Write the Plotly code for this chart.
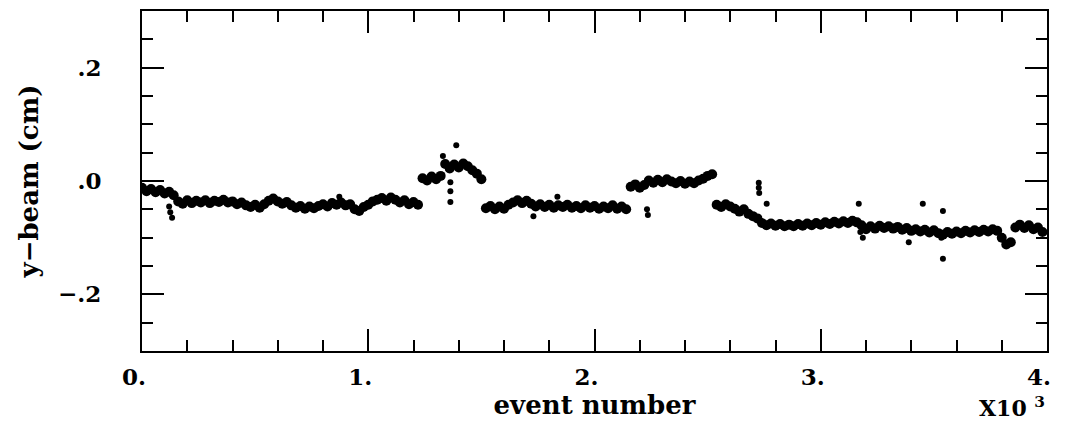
import plotly.graph_objects as go

# Beam y-position vs event number (event number in units of 10^3 on the axis)
EVENT_STEP_START = 0
EVENT_STEP = 20

# Running beam position sampled every 20 events, 0 .. 3980
y_beam = [
    -0.012, -0.018, -0.014, -0.020, -0.016, -0.022, -0.019, -0.025, -0.036, -0.040,
    -0.034, -0.039, -0.035, -0.038, -0.034, -0.039, -0.035, -0.037, -0.033, -0.038,
    -0.036, -0.041, -0.038, -0.043, -0.046, -0.042, -0.047, -0.041, -0.035, -0.031,
    -0.036, -0.040, -0.037, -0.043, -0.047, -0.044, -0.049, -0.045, -0.048, -0.044,
    -0.041, -0.045, -0.039, -0.042, -0.038, -0.043, -0.041, -0.050, -0.053, -0.046,
    -0.042, -0.036, -0.033, -0.030, -0.035, -0.029, -0.033, -0.038, -0.034, -0.041,
    -0.037, -0.042, 0.005, 0.001, 0.008, 0.003, 0.009, 0.030, 0.022, 0.029,
    0.024, 0.031, 0.026, 0.019, 0.013, 0.003, -0.048, -0.044, -0.050, -0.045,
    -0.049, -0.042, -0.038, -0.034, -0.039, -0.035, -0.040, -0.045, -0.041, -0.046,
    -0.042, -0.047, -0.043, -0.046, -0.042, -0.047, -0.044, -0.048, -0.043, -0.047,
    -0.044, -0.049, -0.045, -0.048, -0.043, -0.049, -0.045, -0.050, -0.010, -0.006,
    -0.012, -0.007, 0.001, -0.003, 0.002, -0.002, 0.003, -0.001, -0.004, 0.000,
    -0.005, -0.001, -0.004, 0.001, 0.004, 0.009, 0.012, -0.042, -0.046, -0.041,
    -0.045, -0.049, -0.054, -0.050, -0.058, -0.062, -0.066, -0.074, -0.078, -0.075,
    -0.079, -0.076, -0.080, -0.077, -0.080, -0.076, -0.079, -0.075, -0.078, -0.074,
    -0.077, -0.073, -0.076, -0.072, -0.075, -0.071, -0.074, -0.070, -0.073, -0.078,
    -0.085, -0.080, -0.084, -0.079, -0.083, -0.080, -0.084, -0.081, -0.086, -0.083,
    -0.088, -0.085, -0.089, -0.086, -0.091, -0.087, -0.092, -0.095, -0.090, -0.093,
    -0.089, -0.092, -0.088, -0.091, -0.087, -0.090, -0.086, -0.089, -0.085, -0.088,
    -0.100, -0.112, -0.108, -0.082, -0.077, -0.083, -0.078, -0.085, -0.082, -0.090,
]
events = [EVENT_STEP_START + EVENT_STEP * i for i in range(len(y_beam))]

# Isolated events away from the running band
outlier_events = [120, 125, 133, 872, 1330, 1363, 1363, 1363, 1389, 1730,
                  1836, 2232, 2236, 2726, 2726, 2728, 2761, 3168, 3175, 3186,
                  3389, 3451, 3533, 3540, 3540]
outlier_y = [-0.045, -0.055, -0.065, -0.028, 0.044, -0.002, -0.018, -0.037, 0.063, -0.062,
             -0.028, -0.050, -0.060, -0.003, -0.012, -0.021, -0.040, -0.040, -0.090, -0.100,
             -0.108, -0.040, -0.100, -0.053, -0.137]

NBSP2 = "\u00a0\u00a0"  # trailing pad so the label's period sits at the tick
x_tickvals = [0, 1, 2, 3, 4]
x_ticktext = ["0." + NBSP2, "1." + NBSP2, "2." + NBSP2, "3." + NBSP2, "4." + NBSP2]
y_tickvals = [-0.2, 0.0, 0.2]
y_ticktext = ["\u2212.2", ".0", ".2"]

FONT = "DejaVu Serif"

fig = go.Figure()
# dense running band
fig.add_trace(go.Scatter(
    x=[e / 1000 for e in events],
    y=y_beam,
    mode="markers",
    marker=dict(color="black", size=10, line=dict(width=0)),
    showlegend=False,
    hoverinfo="skip",
))
# single stray events
fig.add_trace(go.Scatter(
    x=[e / 1000 for e in outlier_events],
    y=outlier_y,
    mode="markers",
    marker=dict(color="black", size=6, line=dict(width=0)),
    showlegend=False,
    hoverinfo="skip",
))

axis_common = dict(
    showline=True, linecolor="black", linewidth=2, mirror="ticks",
    ticks="inside", tickcolor="black", tickwidth=2,
    showgrid=False, zeroline=False,
    tickfont=dict(family=FONT, size=23, color="black", weight="bold"),
    tickmode="array",
)

fig.update_xaxes(
    **axis_common,
    range=[0, 4], tickvals=x_tickvals, ticktext=x_ticktext, ticklen=22,
    minor=dict(ticks="inside", dtick=0.2, ticklen=11, tickwidth=2, tickcolor="black"),
    ticklabelstandoff=4,
    title=dict(text="event number", font=dict(family=FONT, size=26, color="black", weight="bold"),
               standoff=3),
)
fig.update_yaxes(
    **axis_common,
    range=[-0.3, 0.3], tickvals=y_tickvals, ticktext=y_ticktext, ticklen=22,
    minor=dict(ticks="inside", dtick=0.05, ticklen=11, tickwidth=2, tickcolor="black"),
    ticklabelstandoff=34,
    title=dict(text="y\u2212beam (cm)", font=dict(family=FONT, size=26, color="black", weight="bold"),
               standoff=12),
)

fig.add_annotation(
    x=1.0, y=0, xref="paper", yref="paper", xanchor="right", yanchor="top",
    yshift=-40, text="X10 <sup>3</sup>", showarrow=False,
    font=dict(family=FONT, size=22, color="black", weight="bold"),
)

fig.update_layout(
    width=1077, height=423,
    margin=dict(l=142, r=30, t=11, b=72, autoexpand=False),
    paper_bgcolor="white", plot_bgcolor="white",
)

fig.write_html("out.html")
